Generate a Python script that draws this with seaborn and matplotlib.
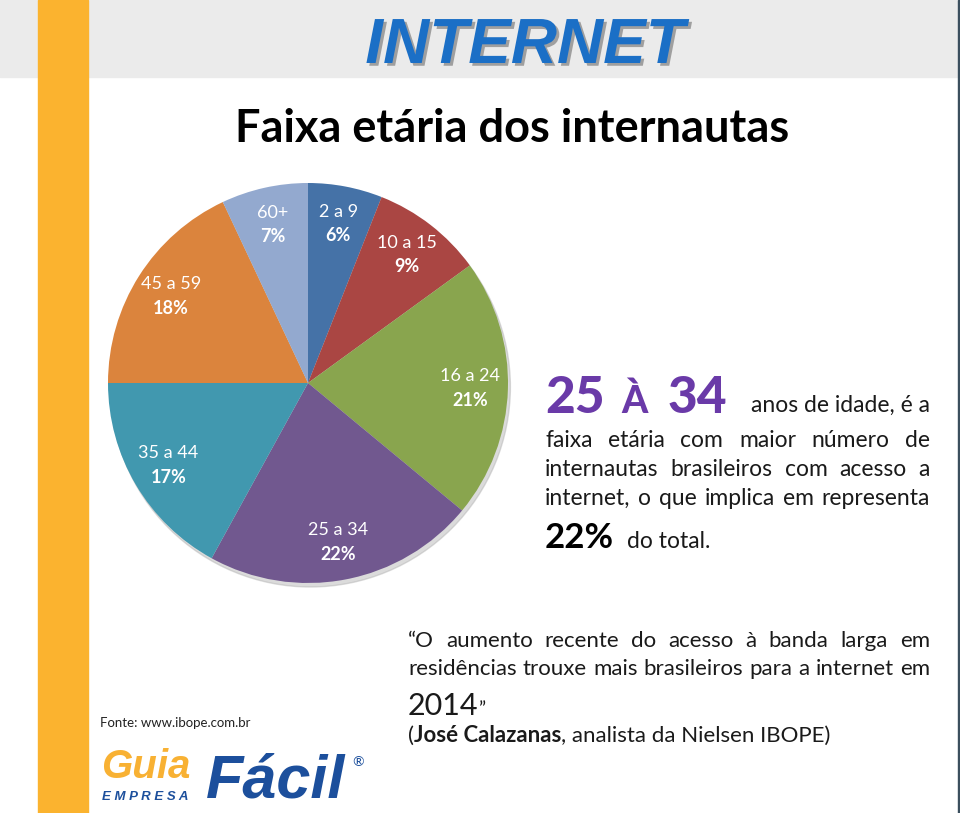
import numpy as np
import matplotlib
matplotlib.use('Agg')
import matplotlib.pyplot as plt
import matplotlib.patheffects as pe
from matplotlib.patches import Rectangle, Circle
import seaborn as sns

# dados do grafico
faixas = ['2 a 9', '10 a 15', '16 a 24', '25 a 34', '35 a 44', '45 a 59', '60+']
percentuais = [6, 9, 21, 22, 17, 18, 7]
cores = ['#4572a7', '#aa4643', '#89a54e', '#71588f', '#4198af', '#db843d', '#93a9cf']

titulo = 'Faixa etária dos internautas'
cabecalho = 'INTERNET'
destaque = ['25', 'À', '34']
paragrafo = ['faixa etária com maior número de',
             'internautas brasileiros com acesso a',
             'internet, o  que implica em representa']
citacao = ['“O aumento recente do acesso à banda larga em',
           'residências trouxe mais brasileiros para a internet em']
fonte = 'Fonte: www.ibope.com.br'

sns.set_theme(style='white')
plt.rcParams['font.family'] = ['Lato', 'DejaVu Sans']

fig = plt.figure(figsize=(9.6, 8.13), dpi=100)
fig.patch.set_facecolor('white')
bg = fig.add_axes([0, 0, 1, 1])
bg.set_xlim(0, 960)
bg.set_ylim(813, 0)
bg.axis('off')
renderer = fig.canvas.get_renderer()

# fundo: faixa cinza, barra laranja, borda direita
bg.add_patch(Rectangle((0, 0), 960, 77, color='#ebebeb', zorder=0))
bg.add_patch(Rectangle((38, 0), 50, 813, color='#fbb32f', zorder=1))
bg.add_patch(Rectangle((957.5, 0), 2.5, 813, color='#3b4f5e', zorder=1))

bg.text(525, 63, cabecalho, fontsize=46, fontweight='bold', style='italic',
        family=['Liberation Sans Narrow', 'Liberation Sans', 'DejaVu Sans'],
        color='#1b6fc6', ha='center', va='baseline',
        path_effects=[pe.withSimplePatchShadow(offset=(2, -2), shadow_rgbFace='#444444', alpha=0.45)])

bg.text(235, 142, titulo, fontsize=32.5, fontweight='bold', color='black', va='baseline')


def largura(t):
    return t.get_window_extent(renderer).width


def linha(ax, pecas, x0, y, x1=None, size=16.5, gap=None, color='#1a1a1a'):
    # pecas: lista de (texto, peso); com x1 a linha fica justificada
    ts = [ax.text(x0, y, p, fontsize=size, fontweight=w, color=color,
                  va='baseline', ha='left') for p, w in pecas]
    larg = [largura(t) for t in ts]
    if x1 is not None and len(ts) > 1:
        gap = (x1 - x0 - sum(larg)) / (len(ts) - 1)
    elif gap is None:
        gap = 0
    x = x0
    for t, l in zip(ts, larg):
        t.set_x(x)
        x += l + gap
    return ts


# pizza
pax = fig.add_axes([108 / 960, (813 - 583) / 813, 400 / 960, 400 / 813])
pax.add_patch(Circle((0.012, -0.02), 1.0, color='#b0b0b0', alpha=0.45, zorder=0, clip_on=False))
wedges, _ = pax.pie(percentuais, colors=cores, startangle=90, counterclock=False,
                    wedgeprops=dict(linewidth=0, zorder=2))
pax.set_xlim(-1, 1)
pax.set_ylim(-1, 1)
pax.axis('off')

for w, nome, pct in zip(wedges, faixas, percentuais):
    ang = np.deg2rad((w.theta1 + w.theta2) / 2)
    px, py = 0.81 * np.cos(ang), 0.81 * np.sin(ang)
    pax.annotate(nome, (px, py), xytext=(0, 12), textcoords='offset pixels',
                 ha='center', va='center', fontsize=13, color='white', zorder=5)
    pax.annotate('{}%'.format(pct), (px, py), xytext=(0, -12), textcoords='offset pixels',
                 ha='center', va='center', fontsize=13, fontweight='bold', color='white', zorder=5)

# bloco de texto da direita
roxo = '#6a3aa8'
bg.text(545, 413, destaque[0], fontsize=37, fontweight='black', color=roxo, va='baseline')
bg.text(621, 413, destaque[1], fontsize=27, fontweight='black', color=roxo, va='baseline')
bg.text(668, 413, destaque[2], fontsize=37, fontweight='black', color=roxo, va='baseline')
bg.text(930, 412, 'anos de idade, é a', fontsize=16.5, color='#1a1a1a', ha='right', va='baseline')

for i, frase in enumerate(paragrafo):
    linha(bg, [(p, 'normal') for p in frase.split()], 545, 447 + 29 * i, x1=930)

bg.text(545, 548, '22%', fontsize=25, fontweight='bold', color='black', va='baseline')
bg.text(627, 548, 'do total.', fontsize=16.5, color='#1a1a1a', va='baseline')

# citacao
for i, frase in enumerate(citacao):
    linha(bg, [(p, 'normal') for p in frase.split()], 408, 647 + 28 * i, x1=930, size=16)
t2014, taspas = linha(bg, [('2014', 'normal'), ('”', 'normal')], 408, 715, size=14)
t2014.set_fontsize(22)
taspas.set_x(408 + largura(t2014) + 0.5)
linha(bg, [('(', 'normal'), ('José Calazanas', 'bold'), (', analista da Nielsen IBOPE)', 'normal')],
      408, 742, size=16)

# fonte e logo
bg.text(100, 727, fonte, fontsize=9.5, color='#222222', va='baseline')
bg.text(101, 778, 'Guia', fontsize=29, fontweight='black', style='italic',
        family=['Liberation Sans', 'DejaVu Sans'], color='#f8b133', va='baseline')
bg.text(102, 800, 'E M P R E S A', fontsize=9.5, fontweight='bold', style='italic',
        family=['Liberation Sans', 'DejaVu Sans'], color='#1c4f9c', va='baseline')
bg.text(206, 797, 'Fácil', fontsize=44, fontweight='bold', style='italic',
        family=['Liberation Sans', 'DejaVu Sans'], color='#1c4f9c', va='baseline')
bg.text(352, 766, '®', fontsize=10, color='#1c4f9c', va='baseline')

fig.savefig('out.png', dpi=100)
